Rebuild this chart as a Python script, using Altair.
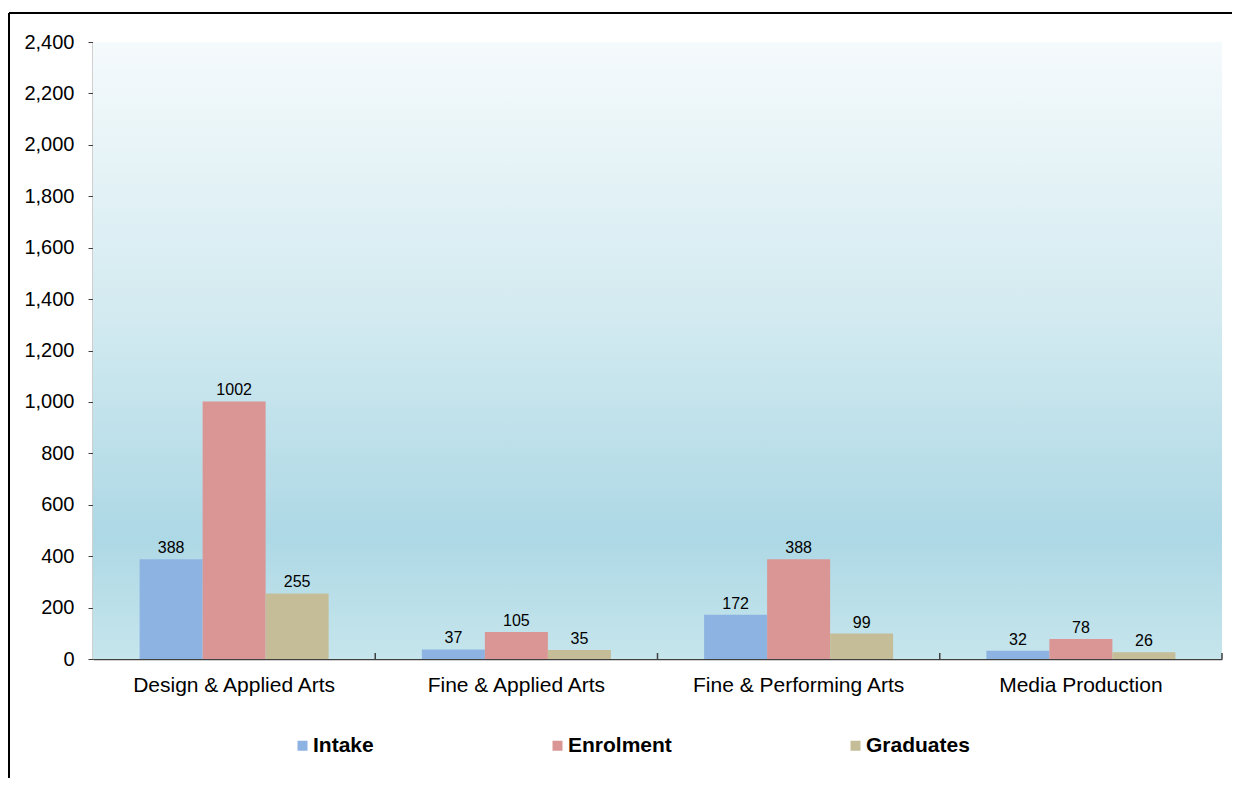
import altair as alt
import pandas as pd

categories = ["Design & Applied Arts", "Fine & Applied Arts", "Fine & Performing Arts", "Media Production"]
series = ["Intake", "Enrolment", "Graduates"]
intake = [388, 37, 172, 32]
enrolment = [1002, 105, 388, 78]
graduates = [255, 35, 99, 26]
colors = ["#8DB3E2", "#DA9694", "#C4BD97"]

rows = []
for i, c in enumerate(categories):
    for s, vals in zip(series, [intake, enrolment, graduates]):
        rows.append({"Category": c, "Series": s, "Value": vals[i]})
df = pd.DataFrame(rows)

W, H = 1129, 617
FONT = "Liberation Sans"

bg = alt.Chart(pd.DataFrame({"a": [0]})).mark_rect(
    color=alt.LinearGradient(
        gradient="linear", x1=0, x2=0, y1=0, y2=1,
        stops=[
            alt.GradientStop(offset=0, color="#F5FAFC"),
            alt.GradientStop(offset=0.45, color="#D2EAF0"),
            alt.GradientStop(offset=0.8, color="#ADD8E5"),
            alt.GradientStop(offset=1, color="#C6E5EC"),
        ],
    )
).encode(x=alt.value(0), x2=alt.value(W), y=alt.value(0), y2=alt.value(H))

xenc = alt.X("Category:N", sort=categories,
             scale=alt.Scale(paddingInner=0, paddingOuter=0),
             axis=alt.Axis(title=None, labelAngle=0, ticks=False, tickSize=0,
                           labelFontSize=21, labelFont=FONT, labelColor="#000000",
                           labelPadding=15, domainColor="#404040", domainWidth=1.5,
                           labelLimit=400))
xoff = alt.XOffset("Series:N", sort=series,
                   scale=alt.Scale(paddingInner=0, paddingOuter=0.74))
yenc = alt.Y("Value:Q", scale=alt.Scale(domain=[0, 2400]),
             axis=alt.Axis(title=None, values=list(range(0, 2401, 200)), format=",d",
                           grid=False, tickSize=5, tickColor="#404040",
                           domainColor="#404040", domainWidth=1.5,
                           labelFontSize=20, labelFont=FONT, labelColor="#000000",
                           labelPadding=14))

bars = alt.Chart(df).mark_bar(opacity=1).encode(
    x=xenc, xOffset=xoff, y=yenc,
    color=alt.Color("Series:N", sort=series,
                    scale=alt.Scale(domain=series, range=colors),
                    legend=alt.Legend(title=None, orient="none", legendX=199, legendY=693,
                                      direction="horizontal", symbolType="square",
                                      symbolSize=100, symbolStrokeWidth=0,
                                      labelFontSize=21, labelFont=FONT, labelFontWeight="bold",
                                      labelColor="#000000", labelOffset=0,
                                      columnPadding=173)),
)

labels = alt.Chart(df).mark_text(baseline="bottom", dy=-3, fontSize=16, font=FONT,
                                 color="#000000").encode(
    x=alt.X("Category:N", sort=categories), xOffset=alt.XOffset("Series:N", sort=series),
    y="Value:Q", text="Value:Q")

xticks = alt.Chart(pd.DataFrame({"Category": categories})).mark_rule(
    color="#404040", strokeWidth=1.5).encode(
    x=alt.X("Category:N", sort=categories, bandPosition=1),
    y=alt.value(H - 6), y2=alt.value(H))

border_top = alt.Chart(pd.DataFrame({"a": [0]})).mark_rule(color="#000000", strokeWidth=2).encode(
    x=alt.value(-84), x2=alt.value(W + 200), y=alt.value(-29))
border_left = alt.Chart(pd.DataFrame({"a": [0]})).mark_rule(color="#000000", strokeWidth=2).encode(
    x=alt.value(-84), y=alt.value(-29), y2=alt.value(H + 300))

chart = alt.layer(bg, bars, labels, xticks, border_top, border_left).properties(
    width=W, height=H,
    autosize=alt.AutoSizeParams(type="none"),
    padding={"left": 85, "top": 34, "right": 10, "bottom": 119},
    background="#FFFFFF",
).configure_view(stroke=None)

chart.save("out.html", embed_options={"renderer": "svg", "actions": False})
